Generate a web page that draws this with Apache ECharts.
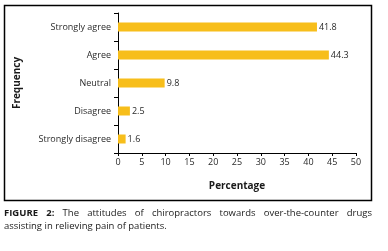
<!DOCTYPE html>
<html>
<head>
<meta charset="utf-8">
<script src="https://cdn.jsdelivr.net/npm/echarts@6/dist/echarts.min.js"></script>
<style>
  html, body {margin: 0; padding: 0; background: #fff;}
  #wrap {position: relative; width: 388px; height: 251px;}
  #chart {position: absolute; left: 0; top: 0; width: 388px; height: 251px;}
  #caption {position: absolute; left: 4px; top: 207px; width: 368px; font-family: "Open Sans", sans-serif; font-size: 9.5px; line-height: 12.5px; color: #1a1a1a;}
  #caption .l1 {display: block; text-align: justify; text-align-last: justify;}
  #caption b {font-weight: bold;}
</style>
</head>
<body>
<div id="wrap">
  <div id="chart"></div>
  <div id="caption"><span class="l1"><b>FIGURE 2:</b> The attitudes of chiropractors towards over-the-counter drugs</span>assisting in relieving pain of patients.</div>
</div>
<script>
  // 数据
  const categories = ['Strongly agree', 'Agree', 'Neutral', 'Disagree', 'Strongly disagree']
  const values = [41.8, 44.3, 9.8, 2.5, 1.6]
  const font = '"Open Sans", sans-serif'

  const myChart = echarts.init(document.getElementById('chart'))
  const option = {
    animation: false,
    grid: {left: 118, right: 32, top: 13, bottom: 98},
    graphic: [{
      type: 'rect', shape: {x: 4.5, y: 5.5, width: 367, height: 195},
      style: {fill: 'none', stroke: '#000', lineWidth: 1.5}, silent: true,
    }],
    xAxis: {
      type: 'value', min: 0, max: 50, interval: 5,
      name: 'Percentage', nameLocation: 'middle', nameGap: 28,
      nameTextStyle: {fontFamily: font, fontSize: 10, fontWeight: 'bold', color: '#1a1a1a'},
      axisLine: {show: true, lineStyle: {color: '#000', width: 1}},
      axisTick: {show: true, length: 3, lineStyle: {color: '#000'}},
      axisLabel: {fontFamily: font, fontSize: 9, color: '#2a2a2a', margin: 5},
      splitLine: {show: false},
    },
    yAxis: {
      type: 'category', data: categories, inverse: true,
      name: 'Frequency', nameLocation: 'middle', nameGap: 96, nameRotate: 90,
      nameTextStyle: {fontFamily: font, fontSize: 10, fontWeight: 'bold', color: '#1a1a1a'},
      axisLine: {lineStyle: {color: '#000', width: 1}},
      axisTick: {show: true, length: 4, lineStyle: {color: '#000'}},
      axisLabel: {fontFamily: font, fontSize: 9, color: '#2a2a2a', margin: 7},
    },
    series: [{
      type: 'bar', data: values, barWidth: 9,
      itemStyle: {color: '#F7BE1B'},
      label: {show: true, position: 'right', distance: 2, fontFamily: font, fontSize: 9, color: '#2a2a2a'},
    }],
  }
  myChart.setOption(option)
</script>
</body>
</html>
